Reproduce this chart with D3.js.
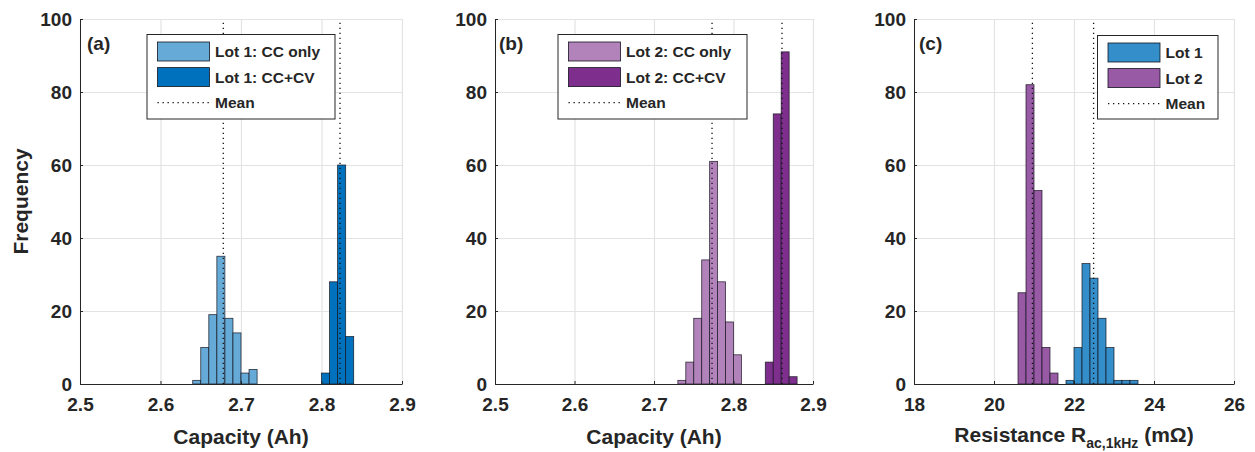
<!DOCTYPE html>
<html>
<head>
<meta charset="utf-8">
<script src="https://cdn.jsdelivr.net/npm/d3@7"></script>
<style>
  body { margin: 0; background: #fff; }
  text { font-family: "Liberation Sans", Arial, Helvetica, sans-serif; font-weight: bold; fill: #262626; }
</style>
</head>
<body>
<div id="chart"></div>
<script>
// Histograms of capacity (two lots, CC only vs CC+CV) and AC resistance.

// Data
const capTicks = [2.5, 2.6, 2.7, 2.8, 2.9];
const resTicks = [18, 20, 22, 24, 26];
const freqTicks = [0, 20, 40, 60, 80, 100];

const capBinWidth = 0.01;
const resBinWidth = 0.2;

// panel (a)
const lot1CCOnlyStart = 2.50;
const lot1CCOnlyCounts = [0, 0, 0, 0, 0, 0, 0, 0, 0, 0, 0, 0, 0, 0, 1, 10, 19, 35, 18, 14, 3, 4];
const lot1CCCVStart = 2.72;
const lot1CCCVCounts = [0, 0, 0, 0, 0, 0, 0, 0, 3, 28, 60, 13, 0, 0, 0, 0, 0, 0];
const lot1Means = [2.678, 2.823];

// panel (b)
const lot2CCOnlyStart = 2.50;
const lot2CCOnlyCounts = [0, 0, 0, 0, 0, 0, 0, 0, 0, 0, 0, 0, 0, 0, 0, 0, 0, 0, 0, 0, 0, 0, 0, 1, 6, 18, 34, 61, 28, 17, 8];
const lot2CCCVStart = 2.81;
const lot2CCCVCounts = [0, 0, 0, 6, 74, 91, 2, 0, 0];
const lot2Means = [2.773, 2.861];

// panel (c)
const resLot1Start = 21.8;
const resLot1Counts = [1, 10, 33, 29, 18, 10, 1, 1, 1, 0, 0, 0, 0, 0, 0, 0];
const resLot2Start = 19.0;
const resLot2Counts = [0, 0, 0, 0, 0, 0, 0, 0, 25, 82, 53, 10, 3];
const resMeans = [22.49, 20.96];

// Layout
const width = 1255;
const height = 452;
const marginTop = 19;
const plotBottom = 384;

const panels = [
    {
        left: 80, right: 402, domain: [2.5, 2.9], ticks: capTicks, fmt: d3.format(".1f"),
        label: "(a)", labelX: 7,
        series: [
            { start: lot1CCOnlyStart, width: capBinWidth, counts: lot1CCOnlyCounts, fill: "#66aad7" },
            { start: lot1CCCVStart, width: capBinWidth, counts: lot1CCCVCounts, fill: "#0072bd" }
        ],
        means: lot1Means,
        legend: { x: 67, y: 34.5, w: 188, h: 84.5, items: ["Lot 1: CC only", "Lot 1: CC+CV", "Mean"] },
        xlabel: "cap"
    },
    {
        left: 495, right: 813, domain: [2.5, 2.9], ticks: capTicks, fmt: d3.format(".1f"),
        label: "(b)", labelX: 4,
        series: [
            { start: lot2CCOnlyStart, width: capBinWidth, counts: lot2CCOnlyCounts, fill: "#b282bb" },
            { start: lot2CCCVStart, width: capBinWidth, counts: lot2CCCVCounts, fill: "#7e2f8e" }
        ],
        means: lot2Means,
        legend: { x: 63, y: 34.5, w: 189, h: 84.5, items: ["Lot 2: CC only", "Lot 2: CC+CV", "Mean"] },
        xlabel: "cap"
    },
    {
        left: 914, right: 1234, domain: [18, 26], ticks: resTicks, fmt: d3.format("d"),
        label: "(c)", labelX: 5,
        series: [
            { start: resLot1Start, width: resBinWidth, counts: resLot1Counts, fill: "#338eca" },
            { start: resLot2Start, width: resBinWidth, counts: resLot2Counts, fill: "#9859a5" }
        ],
        means: resMeans,
        legend: { x: 183.5, y: 35.5, w: 120.5, h: 83.5, items: ["Lot 1", "Lot 2", "Mean"] },
        xlabel: "res"
    }
];

const svg = d3.select("#chart").append("svg")
    .attr("width", width)
    .attr("height", height);

const yscale = d3.scaleLinear()
    .domain([0, 100])
    .range([plotBottom, marginTop]);

panels.forEach((p, pi) => {
    const xscale = d3.scaleLinear()
        .domain(p.domain)
        .range([p.left, p.right]);

    const g = svg.append("g");

    // grid
    g.append("g")
        .attr("transform", `translate(0,${plotBottom})`)
        .call(d3.axisBottom(xscale).tickValues(p.ticks).tickSize(-(plotBottom - marginTop)).tickFormat(""))
        .call(s => s.select(".domain").remove())
        .call(s => s.selectAll("line").attr("stroke", "#e3e3e3").attr("stroke-width", 1.2));
    g.append("g")
        .attr("transform", `translate(${p.left},0)`)
        .call(d3.axisLeft(yscale).tickValues(freqTicks).tickSize(-(p.right - p.left)).tickFormat(""))
        .call(s => s.select(".domain").remove())
        .call(s => s.selectAll("line").attr("stroke", "#e3e3e3").attr("stroke-width", 1.2));

    // bars
    p.series.forEach(sr => {
        const bins = sr.counts.map((c, i) => ({ x0: sr.start + i * sr.width, x1: sr.start + (i + 1) * sr.width, count: c }));
        g.append("g").selectAll("rect")
            .data(bins)
            .join("rect")
            .attr("x", d => xscale(d.x0))
            .attr("width", d => xscale(d.x1) - xscale(d.x0))
            .attr("y", d => yscale(d.count))
            .attr("height", d => yscale(0) - yscale(d.count))
            .attr("fill", sr.fill)
            .attr("stroke", "#14141e")
            .attr("stroke-opacity", 0.85)
            .attr("stroke-width", 0.8);
    });

    // mean lines
    g.append("g").selectAll("line")
        .data(p.means)
        .join("line")
        .attr("x1", d => xscale(d))
        .attr("x2", d => xscale(d))
        .attr("y1", yscale(99))
        .attr("y2", yscale(0))
        .attr("stroke", "#111")
        .attr("stroke-width", 1.3)
        .attr("stroke-dasharray", "1.3,3.7");

    // axes
    g.append("g")
        .attr("transform", `translate(0,${plotBottom})`)
        .call(d3.axisBottom(xscale).tickValues(p.ticks).tickFormat(p.fmt).tickSizeInner(-3).tickSizeOuter(0).tickPadding(14))
        .call(s => s.selectAll("path,line").attr("stroke", "#262626").attr("stroke-width", 1))
        .call(s => s.selectAll("text").style("font-size", "19px").attr("fill", "#262626"));
    g.append("g")
        .attr("transform", `translate(${p.left},0)`)
        .call(d3.axisLeft(yscale).tickValues(freqTicks).tickSizeInner(-3).tickSizeOuter(0).tickPadding(8))
        .call(s => s.selectAll("path,line").attr("stroke", "#262626").attr("stroke-width", 1))
        .call(s => s.selectAll("text").style("font-size", "19px").attr("fill", "#262626"));

    // panel label
    g.append("text")
        .attr("x", p.left + p.labelX)
        .attr("y", 50)
        .style("font-size", "19px")
        .text(p.label);

    // x label
    const cx = (p.left + p.right) / 2;
    if (p.xlabel === "cap") {
        g.append("text")
            .attr("x", cx)
            .attr("y", 444)
            .attr("text-anchor", "middle")
            .style("font-size", "21px")
            .text("Capacity (Ah)");
    } else {
        const t = g.append("text")
            .attr("x", cx)
            .attr("y", 442)
            .attr("text-anchor", "middle")
            .style("font-size", "21px");
        t.append("tspan").text("Resistance R");
        t.append("tspan").attr("dy", 6).style("font-size", "14px").text("ac,1kHz");
        t.append("tspan").attr("dy", -6).text(" (m\u03A9)");
    }

    // legend
    const lg = g.append("g").attr("transform", `translate(${p.left + p.legend.x},${p.legend.y})`);
    lg.append("rect")
        .attr("width", p.legend.w)
        .attr("height", p.legend.h)
        .attr("fill", "#fff")
        .attr("stroke", "#262626")
        .attr("stroke-width", 1);
    p.legend.items.forEach((item, i) => {
        const cy = 17 + i * 25.6;
        if (i < 2) {
            lg.append("rect")
                .attr("x", 10.5)
                .attr("y", cy - 9.5)
                .attr("width", 52)
                .attr("height", 19)
                .attr("fill", p.series[i].fill)
                .attr("stroke", "#14141e")
                .attr("stroke-width", 0.8);
        } else {
            lg.append("line")
                .attr("x1", 10.5)
                .attr("x2", 62.5)
                .attr("y1", cy)
                .attr("y2", cy)
                .attr("stroke", "#111")
                .attr("stroke-width", 1.3)
                .attr("stroke-dasharray", "1.3,3.7");
        }
        lg.append("text")
            .attr("x", 68)
            .attr("y", cy)
            .attr("dy", "0.36em")
            .style("font-size", "15.5px")
            .text(item);
    });
});

// y label (first panel only)
svg.append("text")
    .attr("transform", `translate(28,${(marginTop + plotBottom) / 2}) rotate(-90)`)
    .attr("text-anchor", "middle")
    .style("font-size", "21px")
    .text("Frequency");
</script>
</body>
</html>
